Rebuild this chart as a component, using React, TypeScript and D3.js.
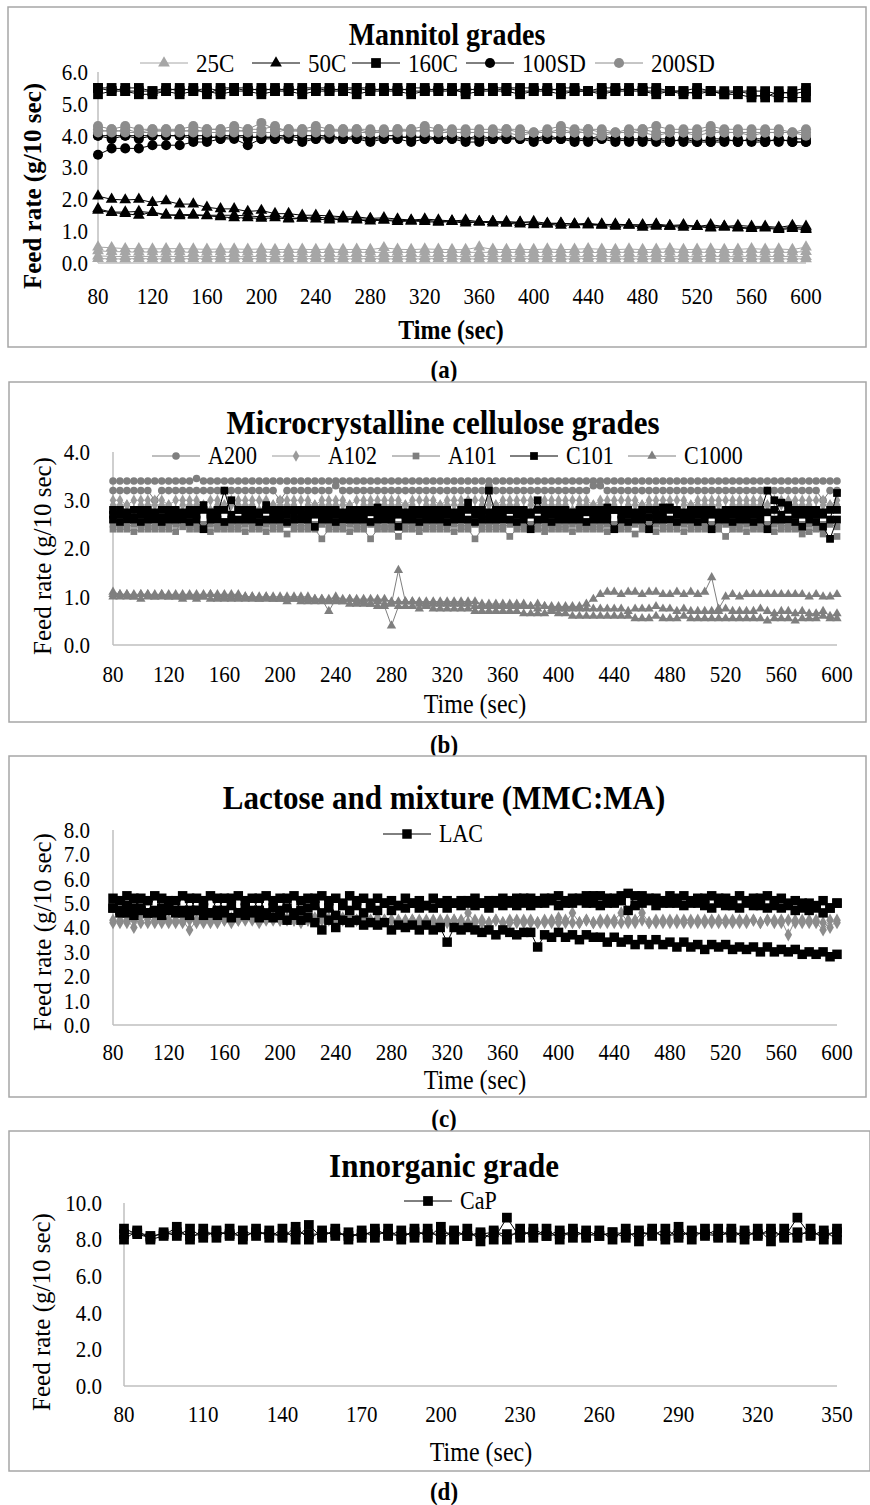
import React from "react";
import * as d3 from "d3";

const FONT = "'Liberation Serif', 'Times New Roman', serif";
// the original figure is slightly condensed horizontally
const SX = 0.9;

// ---------- (a) Mannitol grades, one reading every 10 s ----------
const timeA = d3.range(80, 601, 10);
const mannitol25C = [
  [0.5,0.48,0.45,0.45,0.44,0.45,0.45,0.44,0.43,0.44, 0.44,0.43,0.44,0.42,0.43,0.43,0.42,0.44,0.42,0.43, 0.42,0.48,0.43,0.42,0.44,0.43,0.42,0.42,0.5,0.43, 0.42,0.43,0.42,0.44,0.42,0.43,0.45,0.43,0.42,0.44, 0.42,0.43,0.45,0.42,0.43,0.44,0.42,0.43,0.45,0.43, 0.44,0.42,0.5],
  [0.38,0.36,0.35,0.34,0.35,0.34,0.35,0.33,0.34,0.35, 0.33,0.34,0.33,0.35,0.33,0.34,0.33,0.33,0.34,0.33, 0.34,0.33,0.34,0.33,0.34,0.33,0.33,0.34,0.33,0.34, 0.33,0.34,0.33,0.34,0.33,0.34,0.33,0.33,0.34,0.33, 0.34,0.33,0.34,0.33,0.34,0.33,0.33,0.34,0.33,0.34, 0.33,0.34,0.36],
  [0.22,0.21,0.2,0.21,0.2,0.2,0.21,0.2,0.2,0.21, 0.2,0.2,0.21,0.2,0.2,0.21,0.2,0.2,0.2,0.21, 0.2,0.2,0.21,0.2,0.2,0.2,0.21,0.2,0.2,0.21, 0.2,0.2,0.2,0.21,0.2,0.2,0.2,0.21,0.2,0.2, 0.2,0.21,0.2,0.2,0.2,0.21,0.2,0.2,0.2,0.2, 0.21,0.2,0.2],
  [0.14,0.13,0.13,0.14,0.13,0.13,0.13,0.14,0.13,0.13, 0.13,0.14,0.13,0.13,0.13,0.13,0.14,0.13,0.13,0.13, 0.14,0.13,0.13,0.13,0.13,0.14,0.13,0.13,0.13,0.13, 0.13,0.14,0.13,0.13,0.13,0.13,0.14,0.13,0.13,0.13, 0.13,0.13,0.14,0.13,0.13,0.13,0.13,0.14,0.13,0.13, 0.13,0.13,0.13],
];
const mannitol50C = [
  [2.1,2.0,1.98,2.0,1.9,1.95,1.85,1.85,1.75,1.7, 1.7,1.62,1.65,1.55,1.55,1.5,1.5,1.48,1.45,1.45, 1.4,1.42,1.38,1.35,1.38,1.35,1.32,1.35,1.3,1.3, 1.3,1.28,1.3,1.25,1.25,1.22,1.25,1.2,1.22,1.2, 1.2,1.22,1.18,1.2,1.15,1.2,1.15,1.18,1.15,1.15, 1.12,1.18,1.15],
  [1.7,1.6,1.6,1.62,1.58,1.5,1.52,1.52,1.5,1.5, 1.5,1.48,1.45,1.48,1.4,1.42,1.45,1.4,1.42,1.38, 1.38,1.35,1.35,1.32,1.35,1.3,1.32,1.3,1.28,1.3, 1.25,1.28,1.25,1.22,1.25,1.22,1.2,1.22,1.2,1.2, 1.18,1.2,1.15,1.18,1.15,1.12,1.15,1.12,1.1,1.12, 1.08,1.12,1.1],
  [1.65,1.58,1.55,1.5,1.6,1.52,1.48,1.5,1.48,1.45, 1.42,1.42,1.4,1.42,1.38,1.4,1.38,1.35,1.38,1.35, 1.32,1.35,1.3,1.32,1.3,1.28,1.3,1.25,1.3,1.25, 1.25,1.22,1.2,1.22,1.18,1.2,1.2,1.18,1.15,1.18, 1.12,1.15,1.15,1.12,1.15,1.1,1.12,1.1,1.08,1.1, 1.05,1.08,1.05],
];
const mannitol160C = [
  [5.5,5.5,5.4,5.4,5.4,5.5,5.4,5.5,5.3,5.5, 5.5,5.4,5.5,5.4,5.5,5.4,5.5,5.5,5.4,5.5, 5.4,5.5,5.4,5.5,5.5,5.4,5.4,5.4,5.5,5.4, 5.5,5.4,5.4,5.5,5.4,5.4,5.4,5.4,5.4,5.5, 5.4,5.4,5.4,5.3,5.4,5.4,5.3,5.4,5.3,5.2, 5.4,5.3,5.4],
  [5.3,5.4,5.4,5.3,5.3,5.4,5.3,5.4,5.4,5.3, 5.4,5.4,5.3,5.4,5.4,5.3,5.4,5.4,5.4,5.3, 5.4,5.4,5.4,5.3,5.4,5.4,5.5,5.3,5.4,5.4, 5.4,5.3,5.4,5.4,5.3,5.4,5.4,5.3,5.4,5.4, 5.4,5.3,5.4,5.4,5.3,5.4,5.3,5.3,5.2,5.3, 5.2,5.2,5.2],
  [5.5,5.4,5.5,5.5,5.4,5.4,5.5,5.4,5.5,5.4, 5.5,5.5,5.4,5.5,5.4,5.5,5.5,5.4,5.5,5.5, 5.5,5.4,5.5,5.4,5.4,5.5,5.4,5.5,5.4,5.5, 5.5,5.5,5.5,5.4,5.5,5.5,5.4,5.5,5.5,5.4, 5.5,5.5,5.4,5.4,5.5,5.4,5.4,5.4,5.4,5.4, 5.3,5.4,5.5],
];
const mannitol100SD = [
  [4.0,3.9,4.0,3.9,4.0,4.0,4.0,3.9,3.9,4.0, 4.0,3.9,4.0,3.9,4.0,3.9,3.9,4.0,3.9,3.9, 3.9,3.9,3.9,4.0,3.9,3.9,3.9,3.9,3.9,3.9, 3.9,3.9,3.9,3.9,3.9,3.8,3.9,3.9,3.9,3.8, 3.9,3.9,3.8,3.9,3.9,3.8,3.9,3.8,3.9,3.8, 3.9,3.8,3.8],
  [3.4,3.6,3.6,3.6,3.7,3.7,3.7,3.8,3.8,3.9, 3.9,3.7,3.9,3.9,3.9,3.8,3.9,3.9,3.9,3.9, 3.8,3.9,3.9,3.8,3.9,3.9,3.9,3.8,3.8,3.9, 3.9,3.9,3.8,3.9,3.9,3.9,3.8,3.9,3.8,3.9, 3.9,3.8,3.8,3.9,3.8,3.8,3.8,3.9,3.8,3.8, 3.9,3.8,3.8],
  [4.0,4.0,4.0,4.0,4.0,4.0,4.0,4.0,4.0,3.9, 4.0,4.0,3.9,4.0,4.0,4.0,4.0,4.0,3.9,4.0, 3.9,4.0,4.0,3.9,4.0,3.9,4.0,3.9,4.0,3.9, 4.0,3.9,3.9,4.0,3.9,3.9,3.9,4.0,3.9,3.9, 3.8,3.9,3.9,3.8,3.8,3.9,3.9,3.8,3.9,3.9, 3.8,3.9,3.9],
];
const mannitol200SD = [
  [4.3,4.2,4.3,4.2,4.2,4.2,4.2,4.3,4.2,4.2, 4.3,4.2,4.4,4.2,4.2,4.2,4.3,4.2,4.2,4.2, 4.2,4.1,4.2,4.2,4.3,4.2,4.2,4.2,4.2,4.2, 4.2,4.2,4.1,4.2,4.3,4.2,4.2,4.2,4.1,4.2, 4.2,4.3,4.2,4.2,4.2,4.3,4.2,4.2,4.2,4.2, 4.2,4.1,4.2],
  [4.2,4.1,4.2,4.1,4.2,4.1,4.2,4.1,4.2,4.2, 4.1,4.2,4.2,4.3,4.1,4.2,4.1,4.2,4.1,4.2, 4.1,4.2,4.1,4.2,4.1,4.2,4.1,4.1,4.1,4.1, 4.2,4.1,4.1,4.1,4.2,4.1,4.2,4.1,4.1,4.1, 4.2,4.1,4.1,4.1,4.1,4.2,4.1,4.1,4.1,4.1, 4.1,4.1,4.1],
  [4.1,4.2,4.1,4.1,4.1,4.2,4.1,4.2,4.1,4.1, 4.2,4.1,4.1,4.1,4.2,4.1,4.2,4.1,4.2,4.1, 4.1,4.1,4.2,4.1,4.2,4.1,4.1,4.1,4.1,4.1, 4.1,4.0,4.1,4.1,4.1,4.1,4.1,4.0,4.1,4.1, 4.1,4.0,4.1,4.1,4.0,4.1,4.1,4.1,4.0,4.1, 4.1,4.1,4.0],
];

// ---------- (b) Microcrystalline cellulose grades, every 5 s ----------
const timeB = d3.range(80, 601, 5);
const mccA200 = [
  [3.4,3.4,3.4,3.4,3.4,3.4,3.4,3.4,3.4,3.4, 3.4,3.4,3.45,3.4,3.4,3.4,3.4,3.4,3.4,3.4, 3.4,3.4,3.4,3.4,3.4,3.4,3.4,3.4,3.4,3.4, 3.4,3.4,3.4,3.4,3.4,3.4,3.4,3.4,3.4,3.4, 3.4,3.4,3.4,3.4,3.4,3.4,3.4,3.4,3.4,3.4, 3.4,3.4,3.4,3.4,3.4,3.4,3.4,3.4,3.4,3.4, 3.4,3.4,3.4,3.4,3.4,3.4,3.4,3.4,3.4,3.4, 3.4,3.4,3.4,3.4,3.4,3.4,3.4,3.4,3.4,3.4, 3.4,3.4,3.4,3.4,3.4,3.4,3.4,3.4,3.4,3.4, 3.4,3.4,3.4,3.4,3.4,3.4,3.4,3.4,3.4,3.4, 3.4,3.4,3.4,3.4,3.4],
  [3.2,3.2,3.2,3.2,3.2,3.2,3.0,3.2,3.2,3.2, 3.2,3.2,3.2,3.2,3.2,3.2,3.2,3.2,3.2,3.2, 3.2,3.2,3.2,3.2,3.0,3.2,3.2,3.2,3.2,3.2, 3.2,3.2,3.3,3.2,3.2,3.2,3.2,3.2,3.2,3.2, 3.2,3.2,3.2,3.2,3.2,3.2,3.2,3.2,3.2,3.2, 3.2,3.2,3.2,3.2,3.3,3.2,3.2,3.2,3.2,3.2, 3.2,3.2,3.2,3.2,3.2,3.2,3.2,3.2,3.2,3.3, 3.3,3.2,3.2,3.2,3.2,3.2,3.2,3.2,3.2,3.2, 3.2,3.2,3.2,3.2,3.2,3.2,3.2,3.2,3.2,3.2, 3.2,3.2,3.2,3.2,3.2,3.2,3.2,3.2,3.2,3.2, 3.2,3.2,3.0,3.2,3.2],
];
const mccA102 = [
  [3.0,3.0,2.9,3.0,3.0,3.0,3.0,3.0,2.9,3.0, 3.0,3.0,3.0,2.9,3.0,3.0,2.9,3.0,3.0,3.0, 3.0,3.0,3.0,2.9,3.0,3.0,3.0,3.0,3.0,2.9, 3.0,3.0,3.0,3.0,2.9,3.0,3.0,3.0,3.0,3.0, 3.0,3.0,2.9,3.0,3.0,3.0,3.0,2.9,3.0,3.0, 3.0,3.0,3.0,3.0,3.0,2.9,3.0,3.0,3.0,3.0, 3.0,2.9,3.0,3.0,3.0,3.0,3.0,3.0,3.0,2.9, 3.0,3.0,3.0,3.0,3.0,3.0,2.9,3.0,3.0,3.0, 3.0,3.0,3.0,2.9,3.0,3.0,3.0,3.0,3.0,3.0, 3.0,3.0,3.0,3.0,2.9,3.0,3.0,3.0,3.0,3.0, 3.0,3.0,3.0,2.9,3.0],
  [2.9,2.9,2.9,2.8,2.9,2.9,2.9,2.9,2.9,2.8, 2.9,2.9,2.9,2.9,2.8,2.9,2.9,2.9,2.9,2.9, 2.9,2.8,2.9,2.9,2.9,2.9,2.9,2.8,2.9,2.9, 2.9,2.9,2.9,2.9,2.9,2.8,2.9,2.9,2.9,2.9, 2.9,2.9,2.9,2.9,2.8,2.9,2.9,2.9,2.9,2.9, 2.9,2.9,2.8,2.9,2.9,2.9,2.9,2.9,2.9,2.8, 2.9,2.9,2.9,2.9,2.9,2.9,2.8,2.9,2.9,2.9, 2.9,2.9,2.9,2.8,2.9,2.9,2.9,2.9,2.9,2.9, 2.9,2.8,2.9,2.9,2.9,2.9,2.9,2.9,2.8,2.9, 2.9,2.9,2.9,2.9,2.9,2.8,2.9,2.9,2.9,2.9, 2.9,2.8,2.9,2.9,2.9],
];
const mccA101 = [
  [2.5,2.5,2.45,2.5,2.5,2.5,2.45,2.5,2.5,2.5, 2.45,2.5,2.5,2.5,2.5,2.45,2.5,2.5,2.5,2.5, 2.5,2.45,2.5,2.5,2.5,2.5,2.5,2.45,2.5,2.5, 2.5,2.5,2.5,2.45,2.5,2.5,2.5,2.5,2.5,2.45, 2.5,2.5,2.5,2.5,2.45,2.5,2.5,2.5,2.5,2.5, 2.45,2.5,2.5,2.5,2.5,2.5,2.45,2.5,2.5,2.5, 2.5,2.5,2.45,2.5,2.5,2.5,2.5,2.5,2.45,2.5, 2.5,2.5,2.5,2.5,2.45,2.5,2.5,2.5,2.5,2.5, 2.45,2.5,2.5,2.5,2.5,2.45,2.5,2.5,2.5,2.5, 2.5,2.5,2.45,2.5,2.5,2.5,2.5,2.45,2.5,2.5, 2.5,2.45,2.5,2.5,2.45],
  [2.4,2.4,2.4,2.35,2.4,2.4,2.4,2.4,2.4,2.35, 2.6,2.4,2.4,2.4,2.35,2.4,2.4,2.4,2.4,2.35, 2.4,2.4,2.35,2.4,2.4,2.3,2.4,2.4,2.4,2.4, 2.2,2.4,2.4,2.4,2.35,2.4,2.4,2.2,2.4,2.4, 2.4,2.25,2.4,2.4,2.35,2.4,2.4,2.4,2.4,2.35, 2.4,2.4,2.2,2.4,2.4,2.4,2.4,2.25,2.4,2.4, 2.4,2.4,2.35,2.4,2.4,2.4,2.35,2.4,2.4,2.4, 2.4,2.35,2.4,2.4,2.4,2.3,2.4,2.4,2.35,2.4, 2.4,2.4,2.35,2.4,2.4,2.4,2.4,2.4,2.25,2.4, 2.4,2.35,2.4,2.4,2.4,2.35,2.4,2.4,2.4,2.3, 2.35,2.4,2.3,2.2,2.25],
];
const mccC101 = [
  [2.7,2.7,2.7,2.65,2.7,2.7,2.7,2.65,2.7,2.7, 2.7,2.7,2.7,2.9,2.7,2.7,3.2,2.7,2.8,2.7, 2.7,2.7,2.9,2.7,2.7,2.7,2.8,2.7,2.7,2.7, 2.7,2.75,2.7,2.7,2.7,2.7,2.7,2.75,2.7,2.7, 2.7,2.7,2.7,2.7,2.7,2.7,2.7,2.7,2.7,2.7, 2.7,2.95,2.7,2.7,3.2,2.7,2.7,2.8,2.7,2.7, 2.7,3.0,2.7,2.7,2.7,2.7,2.7,2.7,2.75,2.7, 2.7,2.7,2.8,2.7,2.7,2.7,2.7,2.65,2.7,2.7, 2.85,2.7,2.7,2.7,2.7,2.7,2.7,2.7,2.7,2.7, 2.7,2.7,2.7,2.75,3.2,3.0,2.7,2.9,2.7,2.7, 2.7,2.7,2.7,2.6,3.15],
  [2.6,2.55,2.6,2.6,2.55,2.6,2.6,2.55,2.6,2.6, 2.6,2.55,2.6,2.4,2.6,2.6,2.55,2.6,2.6,2.6, 2.6,2.55,2.6,2.6,2.6,2.55,2.6,2.6,2.6,2.45, 2.6,2.6,2.55,2.6,2.6,2.6,2.6,2.55,2.6,2.6, 2.6,2.45,2.6,2.6,2.55,2.6,2.6,2.6,2.55,2.6, 2.6,2.6,2.55,2.6,2.6,2.6,2.6,2.6,2.55,2.6, 2.4,2.6,2.6,2.55,2.6,2.6,2.6,2.6,2.55,2.6, 2.6,2.6,2.4,2.6,2.55,2.6,2.6,2.4,2.6,2.6, 2.6,2.55,2.6,2.6,2.55,2.6,2.4,2.6,2.6,2.55, 2.6,2.6,2.55,2.6,2.4,2.6,2.6,2.6,2.55,2.45, 2.6,2.55,2.45,2.2,2.6],
  [2.8,2.8,2.75,2.8,2.8,2.8,2.75,2.8,2.8,2.8, 2.75,2.8,2.8,2.8,2.75,2.8,2.8,3.0,2.8,2.8, 2.8,2.75,2.8,2.8,2.8,2.8,2.75,2.8,2.8,2.8, 2.8,2.8,2.8,2.75,2.8,2.8,2.8,2.8,2.85,2.8, 2.8,2.8,2.75,2.8,2.8,2.8,2.8,2.8,2.8,2.75, 2.8,2.8,2.8,2.8,2.75,2.8,2.8,2.8,2.8,2.8, 2.75,2.8,2.8,2.8,2.8,2.8,2.75,2.8,2.8,2.8, 2.8,2.85,2.8,2.8,2.8,2.75,2.8,2.8,2.8,2.85, 2.8,2.8,2.75,2.8,2.8,2.8,2.8,2.75,2.8,2.8, 2.8,2.8,2.8,2.8,2.75,2.8,2.95,2.8,2.8,2.8, 2.8,2.8,2.75,2.8,2.8],
];
const mccC1000 = [
  [1.1,1.05,1.05,1.05,1.05,1.05,1.05,1.05,1.05,1.05, 1.05,1.05,1.05,1.05,1.05,1.05,1.05,1.05,1.05,1.0, 1.0,1.0,1.0,1.0,1.0,1.0,1.0,1.0,1.0,0.95, 0.95,0.95,1.0,0.95,0.95,0.95,0.95,0.95,0.95,0.95, 0.9,0.9,0.9,0.9,0.9,0.9,0.9,0.9,0.9,0.9, 0.9,0.9,0.9,0.85,0.85,0.85,0.85,0.85,0.85,0.85, 0.8,0.85,0.8,0.8,0.8,0.8,0.8,0.8,0.85,0.95, 1.05,1.1,1.1,1.05,1.1,1.1,1.05,1.1,1.1,1.05, 1.05,1.1,1.05,1.1,1.05,1.1,1.4,0.75,1.0,1.05, 1.0,1.05,1.05,1.05,1.05,1.05,1.05,1.05,1.05,1.05, 1.0,1.05,1.0,1.0,1.05],
  [1.05,1.05,1.05,1.0,1.05,1.05,1.0,1.05,1.0,1.0, 1.0,1.0,1.0,1.0,1.05,1.0,1.0,1.0,1.0,1.0, 1.0,0.95,1.0,0.95,0.95,0.95,0.95,0.95,0.95,0.95, 0.95,0.7,0.95,0.9,0.95,0.9,0.9,0.85,0.9,0.85, 0.85,1.55,0.9,0.9,0.85,0.85,0.85,0.85,0.85,0.85, 0.85,0.85,0.8,0.8,0.8,0.8,0.8,0.8,0.8,0.8, 0.8,0.75,0.8,0.75,0.75,0.75,0.75,0.75,0.75,0.75, 0.75,0.75,0.75,0.75,0.7,0.75,0.75,0.75,0.8,0.75, 0.75,0.7,0.75,0.7,0.7,0.7,0.7,0.7,0.75,0.7, 0.7,0.7,0.7,0.75,0.7,0.65,0.7,0.7,0.65,0.7, 0.65,0.65,0.7,0.6,0.65],
  [1.0,1.0,1.0,1.0,0.95,1.0,1.0,1.0,1.0,1.0, 0.95,1.0,0.95,1.0,0.95,0.95,0.95,0.95,0.95,0.95, 0.95,0.95,0.95,0.95,0.95,0.9,0.95,0.9,0.9,0.9, 0.9,0.9,0.9,0.9,0.85,0.85,0.85,0.85,0.8,0.8, 0.4,0.8,0.8,0.8,0.75,0.8,0.75,0.75,0.75,0.75, 0.75,0.75,0.7,0.7,0.7,0.7,0.7,0.7,0.7,0.65, 0.65,0.65,0.65,0.7,0.65,0.65,0.6,0.6,0.6,0.6, 0.6,0.6,0.6,0.6,0.6,0.55,0.55,0.55,0.6,0.55, 0.55,0.55,0.6,0.55,0.55,0.55,0.55,0.55,0.55,0.55, 0.55,0.55,0.55,0.55,0.5,0.55,0.55,0.55,0.5,0.55, 0.55,0.55,0.6,0.55,0.55],
];

// ---------- (c) Lactose and mixture (MMC:MA), every 5 s ----------
const timeC = d3.range(80, 601, 5);
const lactoseLAC = [
  [5.2,4.7,5.3,4.8,5.2,4.6,5.3,4.8,5.1,4.7, 5.3,4.7,5.2,4.8,5.3,4.7,5.2,4.9,5.3,4.8, 5.2,4.7,5.3,4.8,5.2,4.8,5.3,4.7,5.2,4.9, 5.3,4.8,5.2,4.9,5.3,4.9,5.2,4.8,5.2,5.0, 5.1,4.9,5.2,5.0,5.1,4.9,5.2,5.0,5.1,5.0, 5.1,5.0,5.2,5.0,5.1,5.0,5.2,5.0,5.2,5.0, 5.2,5.0,5.2,5.1,5.3,5.0,5.2,5.1,5.3,5.0, 5.3,5.0,5.2,5.1,5.4,4.9,5.3,5.1,5.2,5.0, 5.3,5.0,5.3,5.0,5.2,4.9,5.3,5.0,5.2,4.9, 5.3,5.0,5.2,4.9,5.3,4.9,5.2,4.9,5.1,4.8, 5.0,4.8,5.1,4.8,5.0],
  [4.8,5.1,4.6,5.2,4.7,5.1,4.6,5.2,4.7,5.1, 4.6,5.2,4.7,5.1,4.6,5.2,4.7,5.2,4.6,5.1, 4.7,5.2,4.6,5.1,4.7,5.2,4.6,5.1,4.8,5.2, 4.6,5.1,4.5,5.0,4.7,5.1,4.6,5.0,4.7,5.0, 4.7,4.9,4.8,5.0,4.8,4.9,4.8,5.0,4.8,5.0, 4.9,5.1,4.9,5.0,4.8,5.1,4.9,5.1,4.9,5.2, 4.9,5.1,5.0,5.2,4.9,5.1,5.0,5.2,5.0,5.3, 4.9,5.2,5.0,5.3,4.7,5.3,5.0,5.2,4.9,5.1, 5.0,5.2,4.9,5.1,5.0,5.2,4.8,5.2,4.9,5.1, 4.8,5.1,4.9,5.2,4.8,5.1,4.8,5.0,4.7,5.0, 4.7,4.9,4.6,4.8,5.0],
  [4.8,4.6,4.9,4.5,4.8,4.6,4.7,4.5,4.8,4.6, 4.7,4.5,4.7,4.5,4.6,4.5,4.6,4.4,4.6,4.5, 4.6,4.4,4.5,4.4,4.5,4.3,4.5,4.3,4.4,4.2, 3.9,4.3,4.0,4.3,4.2,4.3,4.1,4.2,4.1,4.2, 3.9,4.1,4.0,4.1,3.9,4.1,3.9,4.0,3.4,4.0, 3.9,4.0,3.9,3.8,3.9,3.7,3.9,3.8,3.7,3.8, 3.8,3.2,3.7,3.6,3.8,3.6,3.7,3.5,3.7,3.6, 3.6,3.4,3.6,3.4,3.5,3.3,3.5,3.3,3.5,3.3, 3.4,3.2,3.4,3.2,3.3,3.1,3.3,3.2,3.3,3.1, 3.2,3.1,3.2,3.0,3.2,3.0,3.1,3.0,3.1,2.9, 3.0,2.9,3.0,2.8,2.9],
];
const lactoseMix = [
  [4.3,4.2,4.3,4.0,4.5,4.2,4.3,4.2,4.3,4.2, 4.3,3.9,4.3,4.2,4.3,4.2,4.3,4.2,4.3,4.3, 4.3,4.2,4.3,4.3,4.3,4.3,4.3,4.2,4.3,4.3, 4.3,4.4,4.3,4.4,4.3,4.3,4.4,4.3,4.3,4.3, 4.3,4.2,4.3,4.3,4.2,4.3,4.3,4.2,4.3,4.3, 4.2,4.6,4.2,4.3,4.2,4.3,4.2,4.3,4.3,4.2, 4.3,4.2,4.3,4.2,4.4,4.2,4.6,4.2,4.3,4.2, 4.3,4.2,4.3,4.6,4.2,4.3,4.6,4.2,4.3,4.2, 4.3,4.2,4.3,4.3,4.2,4.3,4.2,4.3,4.3,4.2, 4.3,4.2,4.3,4.2,4.3,4.2,4.3,3.7,4.3,4.2, 4.3,4.2,3.9,4.3,4.2],
  [4.2,4.3,4.2,4.3,4.2,4.4,4.2,4.3,4.2,4.3, 4.2,4.3,4.2,4.3,4.2,4.3,4.3,4.4,4.3,4.4, 4.4,4.3,4.4,4.4,4.3,4.4,4.3,4.4,4.3,4.4, 4.4,4.3,4.3,4.3,4.4,4.3,4.3,4.3,4.4,4.3, 4.3,4.3,4.2,4.3,4.3,4.2,4.2,4.3,4.2,4.3, 4.3,4.2,4.3,4.2,4.2,4.3,4.2,4.2,4.2,4.3, 4.2,4.2,4.2,4.3,4.2,4.3,4.2,4.2,4.3,4.2, 4.2,4.3,4.2,4.2,4.3,4.2,4.3,4.2,4.2,4.3, 4.2,4.3,4.2,4.2,4.3,4.2,4.3,4.2,4.2,4.3, 4.2,4.3,4.3,4.2,4.3,4.3,4.2,4.3,4.2,4.3, 4.2,4.3,4.2,4.0,4.3],
];

// ---------- (d) Innorganic grade, every 5 s ----------
const timeD = d3.range(80, 351, 5);
const inorganicCaP = [
  [8.6,8.3,8.1,8.4,8.2,8.6,8.1,8.5,8.2,8.5, 8.2,8.5,8.1,8.7,8.0,8.5,8.2,8.4,8.1,8.6, 8.2,8.5,8.1,8.6,8.0,8.5,8.2,8.4,8.0,9.2, 8.1,8.6,8.2,8.5,8.1,8.5,8.2,8.4,8.1,8.5, 8.2,8.6,8.1,8.5,8.2,8.6,8.1,8.5,8.2,8.6, 8.1,9.2,8.2,8.5,8.0],
  [8.3,8.4,8.2,8.3,8.4,8.2,8.3,8.4,8.3,8.2, 8.4,8.3,8.2,8.4,8.3,8.3,8.4,8.2,8.3,8.4, 8.3,8.2,8.4,8.3,8.3,8.4,8.2,8.3,8.4,8.3, 8.3,8.4,8.2,8.3,8.4,8.3,8.2,8.4,8.3,8.3, 8.4,8.2,8.3,8.4,8.3,8.2,8.4,8.3,8.3,8.4, 8.2,8.4,8.3,8.3,8.4],
  [8.0,8.5,8.0,8.2,8.7,8.0,8.6,8.1,8.6,8.0, 8.6,8.1,8.6,8.0,8.8,8.1,8.6,8.0,8.5,8.1, 8.6,8.0,8.6,8.1,8.7,8.0,8.6,7.9,8.5,8.0, 8.6,8.1,8.6,8.0,8.6,8.1,8.5,8.0,8.6,7.9, 8.6,8.0,8.7,8.0,8.6,8.1,8.6,8.0,8.6,7.9, 8.6,8.1,8.6,8.0,8.6],
];

type Sym = "circle" | "square" | "triangle" | "diamond";
const SYMBOLS = {
  circle: d3.symbolCircle,
  square: d3.symbolSquare,
  triangle: d3.symbolTriangle,
  diamond: d3.symbolDiamond,
};

interface Style { color: string; sym: Sym; size: number }
interface Group { t: number[]; reps: number[][]; style: Style }
interface LegendItem { label: string; x: number; style: Style }

interface PanelProps {
  frame: [number, number, number, number];
  xDomain: [number, number];
  xRange: [number, number];
  yDomain: [number, number];
  yRange: [number, number];
  xTicks: number[];
  yTicks: number[];
  yLabelX: number;
  xLabelY: number;
  title: string;
  titleSize: number;
  titleX: number;
  titleY: number;
  legendY: number;
  legendSize: number;
  legend: LegendItem[];
  xTitleX: number;
  xTitleY: number;
  yTitleX: number;
  yTitleY: number;
  boldAxes?: boolean;
  groups: Group[];
  caption: string;
  captionY: number;
}

const mark = (s: Style) => d3.symbol().type(SYMBOLS[s.sym]).size(s.size)() ?? "";

// condensed text: keeps the width of a `size` px font but draws taller glyphs
function T(props: { x: number; y: number; size: number; anchor?: string; bold?: boolean; children: React.ReactNode }) {
  return (
    <text
      transform={`translate(${props.x},${props.y}) scale(${SX},1)`}
      textAnchor={props.anchor ?? "start"}
      dominantBaseline="central"
      fontSize={props.size / SX}
      fontWeight={props.bold ? "bold" : "normal"}
    >
      {props.children}
    </text>
  );
}

function Panel(p: PanelProps) {
  const x = d3.scaleLinear().domain(p.xDomain).range(p.xRange);
  const y = d3.scaleLinear().domain(p.yDomain).range(p.yRange);
  const fmt = d3.format(".1f");
  const [fx0, fy0, fx1, fy1] = p.frame;
  return (
    <g fontFamily={FONT}>
      <rect x={fx0} y={fy0} width={fx1 - fx0} height={fy1 - fy0} fill="#fff" stroke="#a6a6a6" strokeWidth={1.5} />
      <T x={p.titleX} y={p.titleY} size={p.titleSize} anchor="middle" bold>{p.title}</T>
      <line x1={p.xRange[0]} x2={p.xRange[0]} y1={p.yRange[0]} y2={p.yRange[1]} stroke="#bfbfbf" strokeWidth={1.5} />
      <line x1={p.xRange[0]} x2={p.xRange[1]} y1={p.yRange[0]} y2={p.yRange[0]} stroke="#bfbfbf" strokeWidth={1.5} />
      {p.yTicks.map((v) => (
        <T key={"y" + v} x={p.yLabelX} y={y(v)} size={21} anchor="end">{fmt(v)}</T>
      ))}
      {p.xTicks.map((v) => (
        <T key={"x" + v} x={x(v)} y={p.xLabelY} size={21} anchor="middle">{v}</T>
      ))}
      {p.groups.map((g, gi) =>
        g.reps.map((vals, ri) => {
          const path = d3.line<number>().x((_, i) => x(g.t[i])).y((d) => y(d))(vals) ?? "";
          const sym = mark(g.style);
          return (
            <g key={gi + "-" + ri}>
              <path d={path} fill="none" stroke={g.style.color} strokeWidth={1} />
              {vals.map((d, i) => (
                <path key={i} d={sym} transform={`translate(${x(g.t[i])},${y(d)})`} fill={g.style.color} />
              ))}
            </g>
          );
        })
      )}
      {p.legend.map((it) => (
        <g key={it.label}>
          <line x1={it.x} x2={it.x + 48} y1={p.legendY} y2={p.legendY} stroke={it.style.color} strokeWidth={1} />
          <path d={mark(it.style)} transform={`translate(${it.x + 24},${p.legendY})`} fill={it.style.color} />
          <T x={it.x + 56} y={p.legendY} size={p.legendSize}>{it.label}</T>
        </g>
      ))}
      <T x={p.xTitleX} y={p.xTitleY} size={24} anchor="middle" bold={p.boldAxes}>Time (sec)</T>
      <text
        transform={`translate(${p.yTitleX},${p.yTitleY}) rotate(-90)`}
        textAnchor="middle"
        dominantBaseline="central"
        fontSize={25}
        fontWeight={p.boldAxes ? "bold" : "normal"}
      >
        Feed rate (g/10 sec)
      </text>
      <T x={444} y={p.captionY} size={23} anchor="middle" bold>{p.caption}</T>
    </g>
  );
}

const BLACK = "#000000";
const GREY = "#7f7f7f";
const LIGHT = "#a6a6a6";

const st25C: Style = { color: LIGHT, sym: "triangle", size: 60 };
const st50C: Style = { color: BLACK, sym: "triangle", size: 60 };
const st160C: Style = { color: BLACK, sym: "square", size: 95 };
const st100SD: Style = { color: BLACK, sym: "circle", size: 80 };
const st200SD: Style = { color: "#8c8c8c", sym: "circle", size: 80 };

const stA200: Style = { color: GREY, sym: "circle", size: 45 };
const stA102: Style = { color: "#9a9a9a", sym: "diamond", size: 38 };
const stA101: Style = { color: GREY, sym: "square", size: 45 };
const stC101: Style = { color: BLACK, sym: "square", size: 60 };
const stC1000: Style = { color: GREY, sym: "triangle", size: 38 };

const stLAC: Style = { color: BLACK, sym: "square", size: 90 };
const stMix: Style = { color: "#8c8c8c", sym: "diamond", size: 50 };
const stCaP: Style = { color: BLACK, sym: "square", size: 95 };

const ticks600 = d3.range(80, 601, 40);

export default function App() {
  return (
    <svg width={870} height={1505} style={{ position: "absolute", left: 0, top: 0, background: "#fff" }}>
      <Panel
        frame={[8, 7, 866, 347]}
        xDomain={[80, 600]} xRange={[98, 806]}
        yDomain={[0, 6]} yRange={[263, 72]}
        xTicks={ticks600} yTicks={[0, 1, 2, 3, 4, 5, 6]}
        yLabelX={88} xLabelY={296}
        title="Mannitol grades" titleSize={28} titleX={447} titleY={34}
        legendY={63} legendSize={23}
        legend={[
          { label: "25C", x: 140, style: st25C },
          { label: "50C", x: 252, style: st50C },
          { label: "160C", x: 352, style: st160C },
          { label: "100SD", x: 466, style: st100SD },
          { label: "200SD", x: 595, style: st200SD },
        ]}
        xTitleX={451} xTitleY={330} yTitleX={32} yTitleY={186} boldAxes
        groups={[
          { t: timeA, reps: mannitol25C, style: st25C },
          { t: timeA, reps: mannitol50C, style: st50C },
          { t: timeA, reps: mannitol160C, style: st160C },
          { t: timeA, reps: mannitol100SD, style: st100SD },
          { t: timeA, reps: mannitol200SD, style: st200SD },
        ]}
        caption="(a)" captionY={369}
      />
      <Panel
        frame={[9, 382, 866, 722]}
        xDomain={[80, 600]} xRange={[113, 837]}
        yDomain={[0, 4]} yRange={[645, 452]}
        xTicks={ticks600} yTicks={[0, 1, 2, 3, 4]}
        yLabelX={90} xLabelY={674}
        title="Microcrystalline cellulose grades" titleSize={31} titleX={443} titleY={422}
        legendY={456} legendSize={22}
        legend={[
          { label: "A200", x: 152, style: stA200 },
          { label: "A102", x: 272, style: stA102 },
          { label: "A101", x: 392, style: stA101 },
          { label: "C101", x: 510, style: stC101 },
          { label: "C1000", x: 628, style: stC1000 },
        ]}
        xTitleX={475} xTitleY={704} yTitleX={42} yTitleY={556}
        groups={[
          { t: timeB, reps: mccA200, style: stA200 },
          { t: timeB, reps: mccA102, style: stA102 },
          { t: timeB, reps: mccA101, style: stA101 },
          { t: timeB, reps: mccC101, style: stC101 },
          { t: timeB, reps: mccC1000, style: stC1000 },
        ]}
        caption="(b)" captionY={744}
      />
      <Panel
        frame={[9, 756, 866, 1097]}
        xDomain={[80, 600]} xRange={[113, 837]}
        yDomain={[0, 8]} yRange={[1025, 830]}
        xTicks={ticks600} yTicks={[0, 1, 2, 3, 4, 5, 6, 7, 8]}
        yLabelX={90} xLabelY={1052}
        title="Lactose and mixture (MMC:MA)" titleSize={31} titleX={444} titleY={797}
        legendY={834} legendSize={22}
        legend={[{ label: "LAC", x: 383, style: stLAC }]}
        xTitleX={475} xTitleY={1080} yTitleX={42} yTitleY={932}
        groups={[
          { t: timeC, reps: lactoseMix, style: stMix },
          { t: timeC, reps: lactoseLAC, style: stLAC },
        ]}
        caption="(c)" captionY={1118}
      />
      <Panel
        frame={[9, 1131, 870, 1471]}
        xDomain={[80, 350]} xRange={[124, 837]}
        yDomain={[0, 10]} yRange={[1386, 1203]}
        xTicks={d3.range(80, 351, 30)} yTicks={[0, 2, 4, 6, 8, 10]}
        yLabelX={102} xLabelY={1414}
        title="Innorganic grade" titleSize={31} titleX={444} titleY={1165}
        legendY={1201} legendSize={22}
        legend={[{ label: "CaP", x: 404, style: stCaP }]}
        xTitleX={481} xTitleY={1452} yTitleX={41} yTitleY={1312}
        groups={[{ t: timeD, reps: inorganicCaP, style: stCaP }]}
        caption="(d)" captionY={1491}
      />
    </svg>
  );
}
